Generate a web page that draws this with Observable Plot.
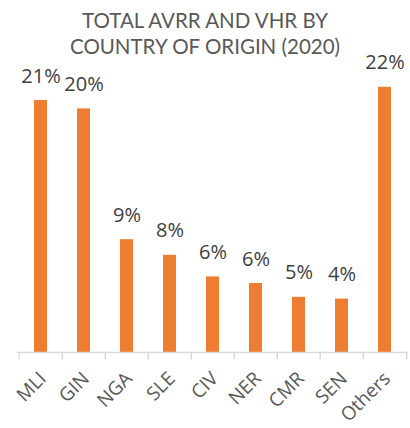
<!DOCTYPE html>
<html>
<head>
<meta charset="utf-8">
<script src="https://cdn.jsdelivr.net/npm/d3@7"></script>
<script src="https://cdn.jsdelivr.net/npm/@observablehq/plot@0.6"></script>
<style>
  html, body { margin: 0; padding: 0; background: #fff; }
  #wrap { position: relative; width: 410px; height: 428px; }
  #title { position: absolute; top: 0; left: 0; width: 410px; padding-top: 7px; text-align: center;
    font-family: Lato, sans-serif; font-size: 20.5px; line-height: 26px; color: #595959; }
</style>
</head>
<body>
<div id="wrap">
  <div id="chart"></div>
  <div id="title">TOTAL AVRR AND VHR BY<br>COUNTRY OF ORIGIN (2020)</div>
</div>
<script>
const categories = ["MLI", "GIN", "NGA", "SLE", "CIV", "NER", "CMR", "SEN", "Others"];
const values = [21.0, 20.3, 9.4, 8.1, 6.3, 5.75, 4.6, 4.45, 22.1];
const valueLabels = ["21%", "20%", "9%", "8%", "6%", "6%", "5%", "4%", "22%"];

const data = categories.map((c, i) => ({c, v: values[i], label: valueLabels[i]}));
const W = 410, ML = 17, MR = 2;
const step = (W - ML - MR) / categories.length;
const font = "'Open Sans', sans-serif";

const chart = Plot.plot({
  width: W,
  height: 428,
  marginLeft: ML,
  marginRight: MR,
  marginTop: 52,
  marginBottom: 76,
  x: {domain: categories, paddingInner: 0.69, paddingOuter: 0.345, axis: null},
  y: {domain: [0, 25], axis: null},
  style: {fontFamily: font, background: "#fff"},
  marks: [
    Plot.barY(data, {x: "c", y: "v", fill: "#ED7D31"}),
    Plot.ruleY([0], {stroke: "#d9d9d9", strokeWidth: 1.5}),
    Plot.ruleX(categories, {x: d => d, dx: -step / 2, y1: 0, y2: -0.62, stroke: "#d9d9d9", strokeWidth: 1.5}),
    Plot.ruleX(categories.slice(-1), {x: d => d, dx: step / 2, y1: 0, y2: -0.62, stroke: "#d9d9d9", strokeWidth: 1.5}),
    Plot.text(data, {x: "c", y: "v", text: "label", dy: -18, lineAnchor: "bottom", fontSize: 20, fill: "#404040", fontFamily: font}),
    Plot.text(categories, {x: d => d, y: 0, dy: 23, dx: 2, rotate: -45, textAnchor: "end", lineAnchor: "middle", fontSize: 19, fill: "#595959", fontFamily: font})
  ]
});
document.getElementById("chart").appendChild(chart);
</script>
</body>
</html>
